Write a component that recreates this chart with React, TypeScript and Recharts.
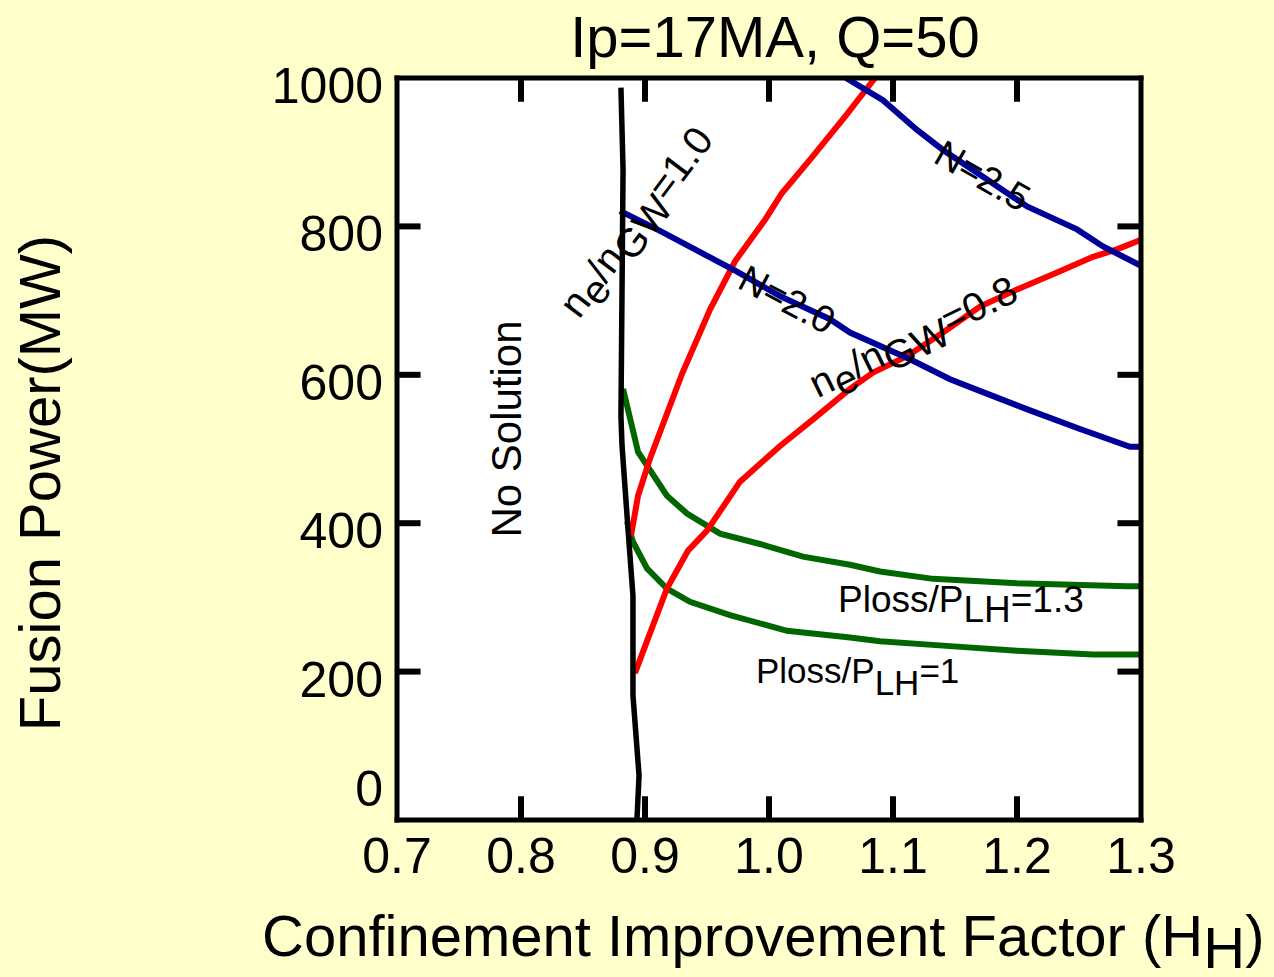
import React from 'react';
import { LineChart, Line, XAxis, YAxis, CartesianGrid, ReferenceLine } from 'recharts';

const FONT = '"Liberation Sans", Arial, Helvetica, sans-serif';

// Axis ticks
const xTicks = [0.7, 0.8, 0.9, 1.0, 1.1, 1.2, 1.3];
const yTicks = [0, 200, 400, 600, 800, 1000];
const xInnerTicks = [0.8, 0.9, 1.0, 1.1, 1.2];
const yInnerTicks = [200, 400, 600, 800];

// Series: [H_H, Fusion Power (MW)]
const densityLimit10 = [
  [0.8806, 987], [0.8823, 876], [0.8806, 544], [0.8815, 504], [0.8863, 392],
  [0.8903, 302], [0.8903, 168], [0.8952, 60], [0.8935, 0],
];
const redSteep = [
  [0.8887, 383], [0.8944, 437], [0.904, 487], [0.9298, 601], [0.9524, 688],
  [0.9726, 753], [0.9968, 809], [1.0105, 845], [1.0331, 890], [1.0613, 948], [1.0855, 1000],
];
const redDensity08 = [
  [0.8919, 198], [0.9016, 241], [0.9177, 312], [0.9347, 363], [0.95, 390],
  [0.9766, 456], [1.0089, 504], [1.0355, 540], [1.0653, 581], [1.0839, 603],
  [1.1113, 625], [1.1403, 657], [1.1702, 692], [1.2, 715], [1.2323, 738],
  [1.2613, 759], [1.2806, 769], [1.3, 782],
];
const blueN20 = [
  [0.8798, 821], [0.9121, 794], [0.9403, 769], [0.9742, 739], [1.0089, 706],
  [1.0492, 675], [1.0653, 657], [1.1137, 621], [1.146, 594], [1.1782, 573],
  [1.2105, 552], [1.2508, 527], [1.2911, 503], [1.3, 503],
];
const blueN25 = [
  [1.0621, 1000], [1.0919, 970], [1.1194, 930], [1.1403, 903], [1.1726, 867],
  [1.2081, 827], [1.2484, 796], [1.2694, 773], [1.3, 747],
];
const greenPloss13 = [
  [0.8823, 581], [0.8944, 496], [0.9177, 437], [0.9339, 413], [0.9605, 386],
  [0.9927, 372], [1.0274, 355], [1.0653, 344], [1.0895, 335], [1.1323, 325],
  [1.2, 319], [1.2887, 315], [1.3, 315],
];
const greenPloss10 = [
  [0.8855, 402], [0.8903, 375], [0.9016, 339], [0.9177, 312], [0.9363, 294],
  [0.9685, 276], [1.0145, 255], [1.0653, 246], [1.0895, 241], [1.1403, 235],
  [1.2, 228], [1.2613, 223], [1.3, 223],
];

const toPts = (arr: number[][]) => arr.map(([h, p]) => ({ h, p }));

const W = 1274;
const H = 977;
const X_MIN = 0.7;
const X_MAX = 1.3;
const Y_MIN = 0;
const Y_MAX = 1000;
// inward tick-mark lengths expressed in axis units (~24 px)
const X_TICK_LEN = 32; // MW
const Y_TICK_LEN = 0.019; // H_H

const axisLineStyle = { stroke: '#000', strokeWidth: 5, strokeLinecap: 'square' as const };

const BottomTick = (props: any) => {
  const { x, y, payload } = props;
  return (
    <text x={x} y={y + 53} textAnchor="middle" fontSize={50} fontFamily={FONT} fill="#000">
      {Number(payload.value).toFixed(1)}
    </text>
  );
};
const LeftTick = (props: any) => {
  const { x, y, payload } = props;
  const dy = payload.value === 0 ? -14 : 25;
  return (
    <text x={x - 14} y={y + dy} textAnchor="end" fontSize={50} fontFamily={FONT} fill="#000">
      {payload.value}
    </text>
  );
};

const curve = (data: number[][], color: string, key: string, width: number) => (
  <Line
    key={key}
    data={toPts(data)}
    dataKey="p"
    type="linear"
    stroke={color}
    strokeWidth={width}
    style={{ strokeWidth: width }}
    dot={false}
    activeDot={false}
    isAnimationActive={false}
  />
);

export default function App() {
  const tickMarks: React.ReactNode[] = [];
  const tickStyle = { stroke: '#000', strokeWidth: 6 };
  xInnerTicks.forEach((v) => {
    tickMarks.push(
      <ReferenceLine key={`xb${v}`} segment={[{ x: v, y: Y_MIN }, { x: v, y: Y_MIN + X_TICK_LEN }]} {...tickStyle} ifOverflow="visible" />,
      <ReferenceLine key={`xt${v}`} segment={[{ x: v, y: Y_MAX }, { x: v, y: Y_MAX - X_TICK_LEN }]} {...tickStyle} ifOverflow="visible" />
    );
  });
  yInnerTicks.forEach((v) => {
    tickMarks.push(
      <ReferenceLine key={`yl${v}`} segment={[{ x: X_MIN, y: v }, { x: X_MIN + Y_TICK_LEN, y: v }]} {...tickStyle} ifOverflow="visible" />,
      <ReferenceLine key={`yr${v}`} segment={[{ x: X_MAX, y: v }, { x: X_MAX - Y_TICK_LEN, y: v }]} {...tickStyle} ifOverflow="visible" />
    );
  });

  return (
    <div style={{ position: 'absolute', left: 0, top: 0, width: W, height: H, background: '#FFFFCC', overflow: 'hidden' }}>
      <LineChart width={W} height={H} margin={{ top: 77, right: 132, bottom: 97, left: 297 }}>
        <CartesianGrid fill="#FFFFFF" stroke="none" horizontal={false} vertical={false} />
        <XAxis
          xAxisId={0}
          dataKey="h"
          type="number"
          domain={[X_MIN, X_MAX]}
          ticks={xTicks}
          interval={0}
          height={60}
          tickSize={0}
          tickMargin={0}
          tickLine={false}
          axisLine={axisLineStyle}
          tick={<BottomTick />}
        />
        <XAxis
          xAxisId="top"
          orientation="top"
          type="number"
          domain={[X_MIN, X_MAX]}
          height={1}
          tickLine={false}
          axisLine={axisLineStyle}
          tick={false}
        />
        <YAxis
          yAxisId={0}
          type="number"
          domain={[Y_MIN, Y_MAX]}
          ticks={yTicks}
          interval={0}
          width={100}
          tickSize={0}
          tickMargin={0}
          tickLine={false}
          axisLine={axisLineStyle}
          tick={<LeftTick />}
        />
        <YAxis
          yAxisId="right"
          orientation="right"
          type="number"
          domain={[Y_MIN, Y_MAX]}
          width={1}
          tickLine={false}
          axisLine={axisLineStyle}
          tick={false}
        />
        {tickMarks}
        {curve(greenPloss10, '#006600', 'g1', 6)}
        {curve(greenPloss13, '#006600', 'g13', 6)}
        {curve(redDensity08, '#FF0000', 'r08', 6)}
        {curve(redSteep, '#FF0000', 'r10', 6)}
        {curve(blueN20, '#000099', 'n20', 6)}
        {curve(blueN25, '#000099', 'n25', 6)}
        {curve(densityLimit10, '#000000', 'k10', 5.5)}
      </LineChart>
      <svg
        width={W}
        height={H}
        style={{ position: 'absolute', left: 0, top: 0, pointerEvents: 'none' }}
        fontFamily={FONT}
        fill="#000"
      >
        <text x={775} y={57} textAnchor="middle" fontSize={58}>Ip=17MA, Q=50</text>
        <text transform="translate(60,483) rotate(-90)" textAnchor="middle" fontSize={58}>Fusion Power(MW)</text>
        <text x={262} y={956} fontSize={58}>
          Confinement Improvement Factor (H<tspan dy={12}>H</tspan><tspan dy={-12}>)</tspan>
        </text>
        <text transform="translate(521,429) rotate(-90)" textAnchor="middle" fontSize={42}>No Solution</text>
        <text transform="translate(647,230) rotate(-53)" textAnchor="middle" fontSize={40}>
          n<tspan dy={9}>e</tspan><tspan dy={-9}>/n</tspan><tspan dy={9}>GW</tspan><tspan dy={-9}>=1.0</tspan>
        </text>
        <text transform="translate(781,311) rotate(28)" textAnchor="middle" fontSize={38}>N=2.0</text>
        <text transform="translate(976,187) rotate(30)" textAnchor="middle" fontSize={38}>N=2.5</text>
        <text transform="translate(919,349) rotate(-26)" textAnchor="middle" fontSize={40}>
          n<tspan dy={9}>e</tspan><tspan dy={-9}>/n</tspan><tspan dy={9}>GW</tspan><tspan dy={-9}>=0.8</tspan>
        </text>
        <text x={838} y={612} fontSize={37}>
          Ploss/P<tspan dy={10}>LH</tspan><tspan dy={-10}>=1.3</tspan>
        </text>
        <text x={756} y={683} fontSize={35}>
          Ploss/P<tspan dy={12}>LH</tspan><tspan dy={-12}>=1</tspan>
        </text>
      </svg>
    </div>
  );
}
